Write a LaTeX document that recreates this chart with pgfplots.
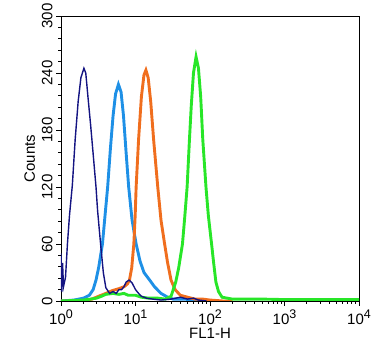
\documentclass[border=0pt]{standalone}
\usepackage{fontspec}
\setmainfont{Liberation Sans}
\usepackage{pgfplots}
\pgfplotsset{compat=1.18}
\definecolor{cnavy}{RGB}{20,20,130}
\definecolor{cblue}{RGB}{30,144,230}
\definecolor{corange}{RGB}{240,110,30}
\definecolor{cgreen}{RGB}{40,230,40}
\newcommand{\tp}[1]{10\raisebox{0.8ex}{\fontsize{12.5}{12.5}\selectfont #1}}
\begin{document}
\begin{tikzpicture}
\begin{axis}[
  scale only axis, width=298pt, height=285pt,
  xmode=log, xmin=1, xmax=10000, ymin=0, ymax=300,
  xtick={1,10,100,1000,10000},
  xticklabels={\tp{0},\tp{1},\tp{2},\tp{3},\tp{4}},
  ytick={0,60,120,180,240,300}, minor y tick num=4,
  tick align=outside, tick pos=left,
  major tick length=5pt, minor tick length=3pt,
  axis line style={line width=0.9pt},
  every tick/.style={black, line width=0.9pt},
  tick label style={font=\fontsize{15}{17}\selectfont},
  yticklabel style={rotate=90, anchor=south},
  label style={font=\fontsize{15}{17}\selectfont},
  xlabel={FL1-H}, ylabel={Counts},
  xlabel style={yshift=3pt},
  /pgf/number format/assume math mode=true,
]
\coordinate (LL) at (rel axis cs:0,0);
\coordinate (UR) at (rel axis cs:1,1);
\addplot[cblue, line width=2.9pt] coordinates {
(1,0) (1.5,1) (2,3) (2.4,6) (2.7,12) (2.95,22) (3.2,35) (3.6,60) (3.9,90) (4.23,120) (4.6,160) (5.0,195) (5.4,218) (5.9,228) (6.4,220) (6.9,195) (7.5,155) (8.1,120) (9,85) (10.2,60) (11.5,42) (13,30) (15.5,22) (18,15) (22,8) (27,4) (32,2) (45,2) (60,1) (80,1) (100,0)
};
\addplot[corange, line width=2.9pt] coordinates {
(1,0) (2.0,0) (2.6,2) (3.2,5) (4.0,8) (4.9,11) (6,13) (7,15) (7.8,18) (8.3,22) (8.9,35) (9.5,60) (9.9,90) (10.2,120) (11,170) (12,215) (13,238) (13.8,243) (14.8,235) (16,210) (17.5,170) (19.9,120) (22,85) (24.6,60) (27,40) (30,22) (34,12) (40,6) (50,4) (63,2) (80,2) (100,1) (150,0) (200,0)
};
\addplot[cgreen, line width=2.9pt] coordinates {
(1,0) (2,1) (2.5,2) (3,3) (3.5,5) (4,7) (5,8) (6,7) (7,8) (8,6) (9,6) (10,6) (12,4) (15,3) (20,3) (25,2) (30,5) (34.7,20) (38,35) (42.7,60) (46,90) (49.3,120) (53,170) (56,205) (60,240) (65,257) (70,245) (75,215) (80,170) (88.3,120) (95,90) (105,60) (112,40) (120,20) (130,10) (145,4) (170,3) (200,2) (300,2) (500,2) (1000,1.5) (2000,1.5) (5000,1.5) (10000,1.5)
};
\addplot[cnavy, line width=1.4pt] coordinates {
(1.0,50) (1.02,10) (1.05,40) (1.08,15) (1.15,25) (1.22,60) (1.3,90) (1.42,122) (1.55,170) (1.7,210) (1.85,235) (2.03,245) (2.15,240) (2.3,215) (2.5,185) (2.7,155) (2.95,120) (3.1,95) (3.4,60) (3.7,30) (4.0,14) (4.5,8) (5,10) (5.5,8) (6,12) (6.5,12) (7,15) (7.5,20) (8.2,22) (9,19) (10,12) (11,8) (12,5) (14,3) (17,2) (22,1) (30,2) (40,4) (50,2) (60,3) (70,1) (90,0)
};
\end{axis}
\pgfresetboundingbox
\path ([shift={(-61pt,-58pt)}]LL) rectangle ([shift={(27pt,16pt)}]UR);
\end{tikzpicture}
\end{document}
